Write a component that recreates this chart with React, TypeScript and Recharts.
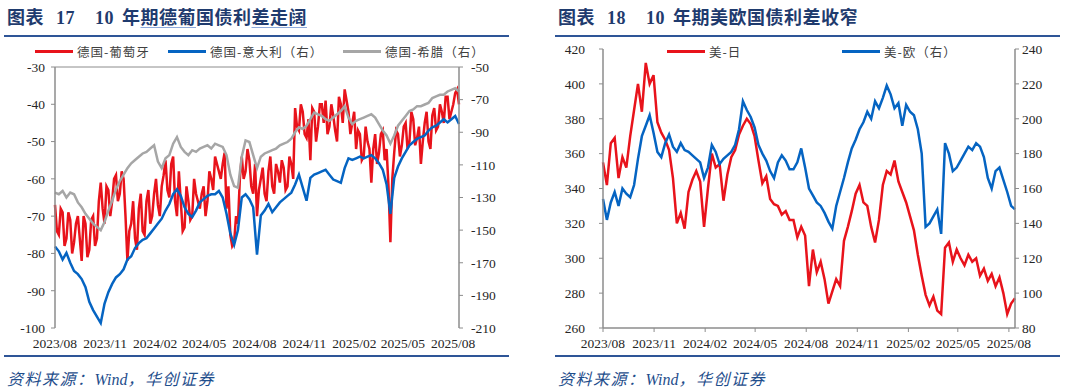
import React from "react";
import { LineChart, Line, XAxis, YAxis } from "recharts";

// weekly observations, first one on 2023/08/01
const START = Date.UTC(2023, 7, 1);
const WEEK = 7 * 24 * 3600 * 1000;

const monthTicks = ["2023/08", "2023/11", "2024/02", "2024/05", "2024/08", "2024/11", "2025/02", "2025/05", "2025/08"];

// 图表17：德国-葡萄牙（左轴），每周初读数
const dePt = [
  -67, -75, -69, -76, -71, -77, -70, -82, -72, -79, -70, -76, -61, -72, -63, -66, -59, -64, -60, -82,
  -72, -76, -68, -74, -66, -72, -64, -67, -62, -55, -65, -54, -70, -66, -73, -66, -70, -64, -68, -62,
  -66, -60, -54, -58, -56, -68, -75, -77, -72, -54, -58, -55, -64, -70, -60, -64, -58, -62, -56, -61,
  -57, -62, -56, -41, -47, -42, -49, -55, -42, -46, -40, -39, -46, -43, -50, -40, -36, -42, -45, -52,
  -48, -54, -50, -61, -48, -53, -47, -52, -77, -53, -48, -51, -45, -50, -44, -49, -56, -45, -50, -43,
  -47, -40, -45, -38, -42, -37, -40,
];
// 德国-葡萄牙，周中读数（波动带的另一侧）
const dePtMid = [
  -74, -68, -78, -69, -80, -72, -76, -70, -81, -71, -78, -66, -68, -62, -70, -60, -66, -58, -70, -74,
  -66, -79, -64, -75, -63, -70, -60, -70, -59, -63, -56, -66, -58, -74, -62, -71, -60, -66, -64, -70,
  -58, -63, -56, -60, -53, -62, -78, -70, -60, -60, -52, -62, -56, -63, -57, -66, -54, -64, -58, -55,
  -63, -54, -60, -46, -40, -48, -44, -41, -50, -40, -45, -48, -40, -47, -38, -45, -39, -48, -42, -47,
  -55, -46, -52, -52, -56, -48, -55, -62, -60, -47, -54, -46, -52, -42, -51, -46, -50, -42, -52, -41,
  -46, -42, -38, -44, -40, -36,
];
// 德国-意大利（右轴）
const deIt = [
  -160, -163, -168, -164, -170, -175, -177, -180, -185, -194, -199, -203, -207, -195, -188, -183, -179, -177, -174, -168,
  -166, -161, -158, -156, -155, -152, -149, -146, -143, -138, -134, -128, -125, -129, -136, -140, -142, -138, -133, -131,
  -129, -128, -128, -126, -130, -140, -152, -159, -150, -130, -128, -131, -136, -165, -141, -138, -134, -139, -136, -133,
  -131, -129, -127, -122, -116, -124, -132, -118, -116, -115, -114, -113, -116, -119, -120, -121, -112, -106, -107, -106,
  -105, -106, -105, -104, -106, -109, -113, -122, -140, -118, -111, -106, -102, -98, -96, -94, -93, -92, -89, -87,
  -86, -84, -82, -84, -82, -80, -85,
];
// 德国-希腊（右轴）
const deGr = [
  -127, -128, -126, -130, -127, -128, -133, -136, -140, -143, -146, -148, -150, -145, -138, -132, -125, -120, -116, -112,
  -109, -107, -105, -103, -102, -100, -98, -108, -112, -106, -104, -97, -93, -99, -102, -104, -101, -102, -100, -99,
  -98, -100, -97, -98, -99, -104, -116, -123, -124, -105, -95, -96, -104, -112, -105, -103, -102, -101, -100, -98,
  -97, -96, -94, -90, -87, -88, -86, -82, -78, -79, -80, -82, -83, -81, -79, -77, -74, -81, -85, -83,
  -82, -81, -80, -79, -81, -85, -89, -92, -97, -92, -86, -83, -80, -77, -76, -74, -74, -73, -72, -69,
  -68, -67, -67, -65, -64, -63, -65,
];

// 图表18：美-日（左轴）
const usJp = [
  355, 342, 366, 369, 346, 358, 352, 370, 385, 400, 384, 412, 400, 405, 378, 372, 368, 362, 346, 320,
  326, 317, 338, 345, 350, 344, 318, 340, 360, 352, 354, 333, 348, 358, 362, 371, 376, 380, 377, 370,
  356, 343, 347, 334, 331, 330, 325, 327, 322, 322, 312, 318, 313, 284, 305, 292, 298, 288, 274, 281,
  288, 284, 310, 318, 327, 337, 342, 332, 330, 318, 309, 322, 342, 350, 348, 356, 344, 338, 332, 324,
  316, 302, 290, 279, 273, 278, 270, 268, 306, 309, 298, 305, 300, 296, 302, 298, 300, 290, 294, 287,
  291, 284, 289, 280, 268, 274, 277,
];
// 美-欧（右轴）
const usEu = [
  154, 142, 152, 158, 150, 160, 157, 155, 162, 177, 190, 196, 202, 192, 181, 178, 186, 191, 184, 181,
  186, 182, 181, 179, 177, 175, 166, 172, 185, 181, 174, 177, 179, 181, 185, 194, 210, 205, 201, 195,
  185, 180, 176, 170, 166, 175, 179, 176, 171, 171, 175, 183, 172, 160, 156, 152, 150, 146, 141, 137,
  150, 158, 166, 175, 183, 188, 194, 198, 204, 200, 210, 206, 212, 219, 214, 206, 209, 196, 208, 204,
  202, 194, 180, 138, 140, 144, 148, 134, 186, 180, 170, 172, 176, 180, 184, 182, 186, 184, 178, 166,
  160, 170, 172, 165, 158, 150, 148,
];

const leftTicksL = [-100, -90, -80, -70, -60, -50, -40, -30];
const leftTicksR = [-210, -190, -170, -150, -130, -110, -90, -70, -50];
const rightTicksL = [260, 280, 300, 320, 340, 360, 380, 400, 420];
const rightTicksR = [80, 100, 120, 140, 160, 180, 200, 220, 240];

const RED = "#E8131B";
const BLUE = "#0564C2";
const GRAY = "#A6A6A6";
const AXIS = "#8C8C8C";
const NAVY = "#1F3B6E";
const RULE = "#2E5597";

const toTs = (s: string) => {
  const [y, m] = s.split("/").map(Number);
  return Date.UTC(y, m - 1, 1);
};
const tickTs = monthTicks.map(toTs);
const fmt = (t: number) => {
  const d = new Date(t);
  return `${d.getUTCFullYear()}/${String(d.getUTCMonth() + 1).padStart(2, "0")}`;
};

const leftData = deIt.map((v, i) => ({ t: START + i * WEEK, it: v, gr: deGr[i] }));
const ptData = dePt.flatMap((v, i) =>
  i < dePtMid.length
    ? [{ t: START + i * WEEK, pt: v }, { t: START + i * WEEK + WEEK / 2, pt: dePtMid[i] }]
    : [{ t: START + i * WEEK, pt: v }]
);
const rightData = usJp.map((v, i) => ({ t: START + i * WEEK, jp: v, eu: usEu[i] }));
const END = START + (deIt.length - 1) * WEEK;

const tickStyle = { fill: "#262626", fontSize: 13.5, fontFamily: "'Liberation Serif', serif" };
const SERIF = "'Liberation Serif', 'Noto Sans CJK SC', serif";

function Legend({ items }: { items: { color: string; label: string; left: number }[] }) {
  return (
    <>
      {items.map((it) => (
        <div
          key={it.label}
          style={{ position: "absolute", left: it.left, top: 43, display: "flex", alignItems: "center", height: 16 }}
        >
          <span style={{ display: "inline-block", width: 38, height: 3, background: it.color, marginRight: 4 }} />
          <span style={{ fontSize: 12.5, color: "#404040", letterSpacing: 1, fontFamily: "'Noto Sans CJK SC', sans-serif" }}>
            {it.label}
          </span>
        </div>
      ))}
    </>
  );
}

function Frame({ no, rest, ruleLeft }: { no: string; rest: React.ReactNode; ruleLeft: number }) {
  return (
    <>
      <div
        style={{
          position: "absolute",
          left: ruleLeft + 3,
          top: 3,
          fontSize: 18,
          letterSpacing: 0.5,
          fontWeight: "bold",
          color: NAVY,
          whiteSpace: "pre",
          fontFamily: SERIF,
        }}
      >
        <span>图表</span>
        <span style={{ marginLeft: 12 }}>{no}</span>
        <span style={{ marginLeft: 20 }}>10</span>
        <span style={{ marginLeft: 8 }}>{rest}</span>
      </div>
      <div style={{ position: "absolute", left: ruleLeft, top: 35, width: 505, height: 2, background: RULE }} />
      <div style={{ position: "absolute", left: ruleLeft, top: 355, width: 505, height: 2, background: RULE }} />
      <div
        style={{
          position: "absolute",
          left: ruleLeft + 3,
          top: 366,
          fontSize: 16,
          fontStyle: "italic",
          color: "#1F4E8C",
          fontFamily: SERIF,
          whiteSpace: "pre",
        }}
      >
        <span style={{ letterSpacing: 1.5 }}>资料来源：</span>
        <span>Wind</span>
        <span style={{ letterSpacing: 1.5 }}>，华创证券</span>
      </div>
    </>
  );
}

const wavy = { textDecoration: "underline", textDecorationColor: "#8EAADB", textUnderlineOffset: 3 };

export default function App() {
  return (
    <div style={{ position: "absolute", left: 0, top: 0, width: 1080, height: 389, background: "#fff", overflow: "hidden" }}>
      {/* 图表17 */}
      <div style={{ position: "absolute", left: 0, top: 0, width: 540, height: 389 }}>
        <Frame
          ruleLeft={4}
          no="17"
          rest={
            <>
              年<span style={wavy}>期德葡</span>国债利<span style={wavy}>差走阔</span>
            </>
          }
        />
        <LineChart width={540} height={389} data={leftData} margin={{ top: 67, right: 41, bottom: 31, left: 15 }}>
          <XAxis
            dataKey="t"
            type="number"
            domain={[START, END]}
            ticks={tickTs}
            tickFormatter={fmt}
            interval={0}
            axisLine={false}
            tickLine={false}
            tickSize={4}
            tickMargin={6}
            height={30}
            tick={tickStyle}
          />
          <XAxis
            xAxisId="top"
            orientation="top"
            dataKey="t"
            type="number"
            domain={[START, END]}
            ticks={tickTs}
            interval={0}
            mirror
            tick={false}
            height={1}
            tickSize={4}
            axisLine={{ stroke: AXIS }}
            tickLine={{ stroke: AXIS }}
          />
          <YAxis
            yAxisId="l"
            domain={[-100, -30]}
            ticks={leftTicksL}
            interval={0}
            width={40}
            tickSize={4}
            tickMargin={6}
            axisLine={{ stroke: AXIS, strokeWidth: 1.5 }}
            tickLine={{ stroke: AXIS }}
            tick={tickStyle}
          />
          <YAxis
            yAxisId="r"
            orientation="right"
            domain={[-210, -50]}
            ticks={leftTicksR}
            interval={0}
            width={40}
            tickSize={4}
            tickMargin={8}
            axisLine={{ stroke: AXIS, strokeWidth: 1.5 }}
            tickLine={{ stroke: AXIS }}
            tick={tickStyle}
          />
          <Line yAxisId="l" data={ptData} dataKey="pt" stroke={RED} strokeWidth={2.5} dot={false} isAnimationActive={false} />
          <Line yAxisId="r" dataKey="it" stroke={BLUE} strokeWidth={2.5} dot={false} isAnimationActive={false} />
          <Line yAxisId="r" dataKey="gr" stroke={GRAY} strokeWidth={2.5} dot={false} isAnimationActive={false} />
        </LineChart>
        <Legend
          items={[
            { color: RED, label: "德国-葡萄牙", left: 35 },
            { color: BLUE, label: "德国-意大利（右）", left: 168 },
            { color: GRAY, label: "德国-希腊（右）", left: 343 },
          ]}
        />
      </div>

      {/* 图表18 */}
      <div style={{ position: "absolute", left: 540, top: 0, width: 540, height: 389 }}>
        <Frame ruleLeft={15} no="18" rest="年期美欧国债利差收窄" />
        <LineChart width={540} height={389} data={rightData} margin={{ top: 49, right: 25, bottom: 31, left: 23 }}>
          <XAxis
            dataKey="t"
            type="number"
            domain={[START, END]}
            ticks={tickTs}
            tickFormatter={fmt}
            interval={0}
            axisLine={{ stroke: AXIS, strokeWidth: 1.5 }}
            tickLine={{ stroke: AXIS }}
            tickSize={4}
            tickMargin={6}
            height={30}
            tick={tickStyle}
          />
          <YAxis
            yAxisId="l"
            domain={[260, 420]}
            ticks={rightTicksL}
            interval={0}
            width={40}
            tickSize={4}
            tickMargin={14}
            axisLine={{ stroke: AXIS, strokeWidth: 1.5 }}
            tickLine={{ stroke: AXIS }}
            tick={tickStyle}
          />
          <YAxis
            yAxisId="r"
            orientation="right"
            domain={[80, 240]}
            ticks={rightTicksR}
            interval={0}
            width={40}
            tickSize={4}
            tickMargin={3}
            axisLine={{ stroke: AXIS, strokeWidth: 1.5 }}
            tickLine={{ stroke: AXIS }}
            tick={tickStyle}
          />
          <Line yAxisId="l" dataKey="jp" stroke={RED} strokeWidth={2.5} dot={false} isAnimationActive={false} />
          <Line yAxisId="r" dataKey="eu" stroke={BLUE} strokeWidth={2.5} dot={false} isAnimationActive={false} />
        </LineChart>
        <Legend
          items={[
            { color: RED, label: "美-日", left: 127 },
            { color: BLUE, label: "美-欧（右）", left: 302 },
          ]}
        />
      </div>
    </div>
  );
}
